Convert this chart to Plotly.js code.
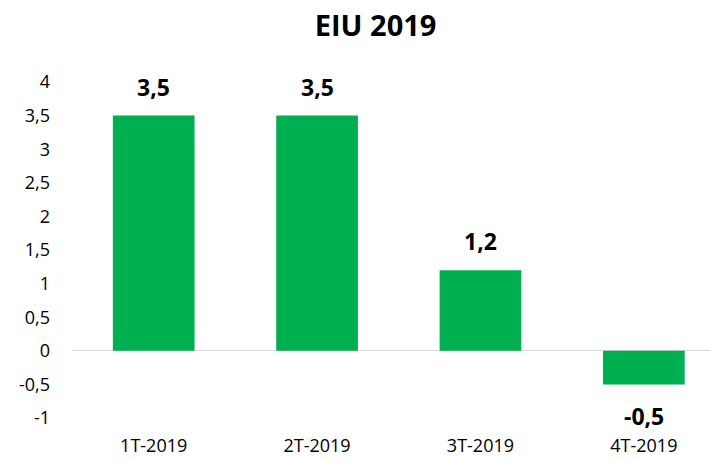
<!DOCTYPE html>
<html>
<head>
<meta charset="utf-8">
<script src="https://cdn.plot.ly/plotly-3.0.1.min.js"></script>
<style>html,body{margin:0;padding:0;background:#fff;}#chart{width:710px;height:459px;}</style>
</head>
<body>
<div id="chart"></div>
<script>
const categories = ["1T-2019", "2T-2019", "3T-2019", "4T-2019"];
const values = [3.5, 3.5, 1.2, -0.5];
const labels = ["3,5", "3,5", "1,2", "-0,5"];
const yTickVals = [-1, -0.5, 0, 0.5, 1, 1.5, 2, 2.5, 3, 3.5, 4];
const yTickText = ["-1", "-0,5", "0", "0,5", "1", "1,5", "2", "2,5", "3", "3,5", "4"];
const chartTitle = "EIU 2019";

const FONT = "'Open Sans', 'Liberation Sans', sans-serif";

const trace = {
  type: "bar",
  x: categories,
  y: values,
  width: 0.5,
  marker: {color: "#00B050"},
  hoverinfo: "none"
};

const annotations = values.map((v, i) => ({
  x: categories[i],
  y: v,
  xref: "x",
  yref: "y",
  text: "<b>" + labels[i] + "</b>",
  showarrow: false,
  yanchor: "middle",
  yshift: v >= 0 ? 29 : -32,
  font: {family: FONT, size: 23, color: "#000"}
}));

const layout = {
  width: 710,
  height: 459,
  margin: {l: 72, r: 0, t: 82, b: 41},
  paper_bgcolor: "#fff",
  plot_bgcolor: "#fff",
  showlegend: false,
  title: {
    text: "<b>" + chartTitle + "</b>",
    x: 0.529, xanchor: "center", xref: "container",
    y: 0.943, yanchor: "middle", yref: "container",
    font: {family: FONT, size: 29, color: "#000"}
  },
  xaxis: {
    type: "category",
    range: [-0.5, 3.405],
    showgrid: false,
    showline: false,
    zeroline: false,
    ticks: "",
    tickfont: {family: FONT, size: 18, color: "#000"},
    ticklabelstandoff: 15
  },
  yaxis: {
    range: [-1, 4],
    tickvals: yTickVals,
    ticktext: yTickText,
    showgrid: false,
    showline: false,
    zeroline: true,
    zerolinecolor: "#d9d9d9",
    zerolinewidth: 1,
    ticks: "",
    tickfont: {family: FONT, size: 18, color: "#000"},
    ticklabelstandoff: 21
  },
  annotations: annotations
};

Plotly.newPlot("chart", [trace], layout, {displayModeBar: false, staticPlot: true});
</script>
</body>
</html>
